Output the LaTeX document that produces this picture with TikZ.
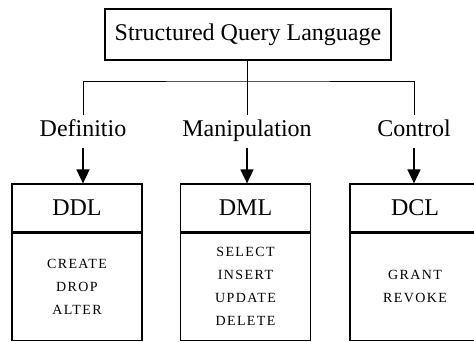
\documentclass[tikz,border=0pt]{standalone}
\usepackage{fontspec}
\setmainfont{Liberation Serif}
\usetikzlibrary{positioning,arrows.meta}

\tikzset{
  topbox/.style={draw, line width=1.2pt, minimum width=286pt, minimum height=51pt, inner sep=0pt, font=\fontsize{24}{27}\selectfont},
  branch/.style={inner sep=0pt, text height=16pt, text depth=5pt, font=\fontsize{24}{27}\selectfont},
  headbox/.style={draw, line width=1.2pt, minimum width=130pt, minimum height=48pt, inner sep=0pt, font=\fontsize{24}{27}\selectfont},
  bodybox/.style={draw, line width=1.2pt, minimum width=130pt, minimum height=107pt, inner sep=0pt, align=center, font=\addfontfeature{LetterSpace=10}\fontsize{14}{23}\selectfont},
  link/.style={line width=1pt},
  down/.style={line width=1.6pt, -{Triangle[length=14pt,width=13pt]}}
}

\begin{document}
\begin{tikzpicture}[x=1pt, y=-1pt]
    \useasboundingbox (0,0) rectangle (474,341);
    % Top
    \node[topbox] (sql) at (248,34.5) {Structured Query Language};
    \coordinate (fork) at (247,81);
    % Branches
    \node[branch] (def) at (83,131) {Definitio};
    \node[branch] (man) at (247,131) {Manipulation};
    \node[branch] (ctl) at (414,131) {Control};
    % Boxes
    \node[headbox] (ddl) at (77,208) {DDL};
    \node[headbox] (dml) at (245.5,208) {DML};
    \node[headbox] (dcl) at (415,208) {DCL};
    \node[bodybox, below=0pt of ddl] (ddlcmd) {CREATE\\DROP\\ALTER};
    \node[bodybox, below=0pt of dml] (dmlcmd) {SELECT\\INSERT\\UPDATE\\DELETE};
    \node[bodybox, below=0pt of dcl] (dclcmd) {GRANT\\REVOKE};
    % Lines
    \draw[link] (sql.south -| fork) -- (fork);
    \draw[link] ([yshift=5pt]def.north) |- (fork) -| ([yshift=5pt]ctl.north);
    \draw[link] (fork) -- ([yshift=5pt]man.north);
    % Arrows
    \draw[down] ([yshift=-6pt]def.south) -- (def.south |- ddl.north);
    \draw[down] ([yshift=-6pt]man.south) -- (man.south |- dml.north);
    \draw[down] ([yshift=-6pt]ctl.south) -- (ctl.south |- dcl.north);
\end{tikzpicture}
\end{document}
